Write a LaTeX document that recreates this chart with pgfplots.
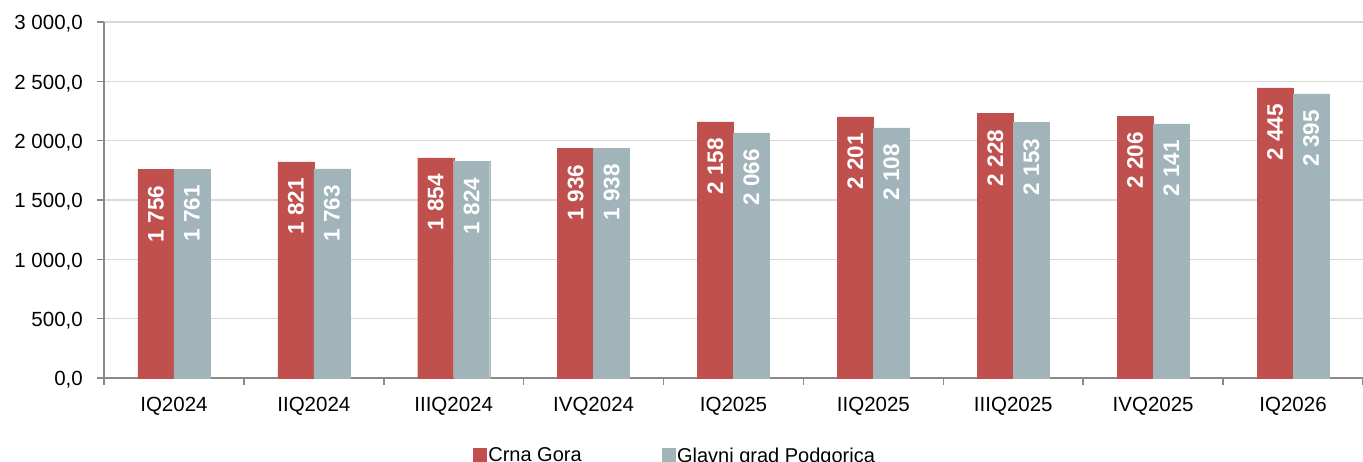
\documentclass[border=0pt]{standalone}
\usepackage{fontspec}
\setmainfont{Liberation Sans}
\usepackage{pgfplots}
\pgfplotsset{compat=1.18}
\definecolor{cgred}{HTML}{C0504D}
\definecolor{pgblue}{HTML}{A0B4BA}
\definecolor{gridc}{HTML}{D9D9D9}
\definecolor{axc}{HTML}{898989}
\begin{document}
\begin{tikzpicture}
\begin{axis}[
  scale only axis, width=1259bp, height=356bp,
  at={(0,0)}, anchor=south west,
  ybar=0pt, bar width=36bp,
  xmin=-0.5, xmax=8.5, ymin=0, ymax=3000,
  ytick={0,500,...,3000},
  axis lines*=left, axis line style={axc, line width=1.5bp, -},
  ymajorgrids, major grid style={gridc, line width=1.3bp},
  tick align=outside, major tick length=7bp, tick style={axc, line width=1.5bp},
  xtick={-0.5,0.5,...,8.5}, xticklabels={},
  extra x ticks={0,1,2,3,4,5,6,7,8},
  extra x tick labels={IQ2024,IIQ2024,IIIQ2024,IVQ2024,IQ2025,IIQ2025,IIIQ2025,IVQ2025,IQ2026},
  extra x tick style={major tick length=0pt, grid=none},
  ticklabel style={font=\fontsize{20.5bp}{24bp}\selectfont},
  xticklabel style={anchor=north, inner sep=0pt, yshift=-19bp},
  yticklabel style={anchor=east, inner sep=0pt, xshift=-14bp, yshift=-2bp},
  /pgf/number format/.cd, fixed, fixed zerofill, precision=1, use comma, 1000 sep={\ }, assume math mode=true,
  /pgfplots/.cd,
  nodes near coords={\pgfmathprintnumber[fixed, precision=0, 1000 sep={\ }]{\pgfplotspointmeta}},
  every node near coord/.append style={rotate=90, anchor=east, text=white, inner xsep=16bp,
    font=\bfseries\fontsize{22.5bp}{26bp}\selectfont},
  legend style={at={(0.4535,-0.218)}, anchor=center, draw=none, fill=none,
    font=\fontsize{20bp}{24bp}\selectfont,
    /tikz/every even column/.append style={column sep=78bp}},
  legend columns=2,
  legend image code/.code={\draw[#1] (0bp,-6bp) rectangle (13bp,7bp);},
]
\addplot[fill=cgred, draw=cgred] coordinates {(0,1756) (1,1821) (2,1854) (3,1936) (4,2158) (5,2201) (6,2228) (7,2206) (8,2445)};
\addplot[fill=pgblue, draw=pgblue] coordinates {(0,1761) (1,1763) (2,1824) (3,1938) (4,2066) (5,2108) (6,2153) (7,2141) (8,2395)};
\legend{Crna Gora, Glavni grad Podgorica}
\end{axis}
\pgfresetboundingbox
\path[use as bounding box] (-104bp,-84bp) rectangle (1259bp,378bp);
\end{tikzpicture}
\end{document}
